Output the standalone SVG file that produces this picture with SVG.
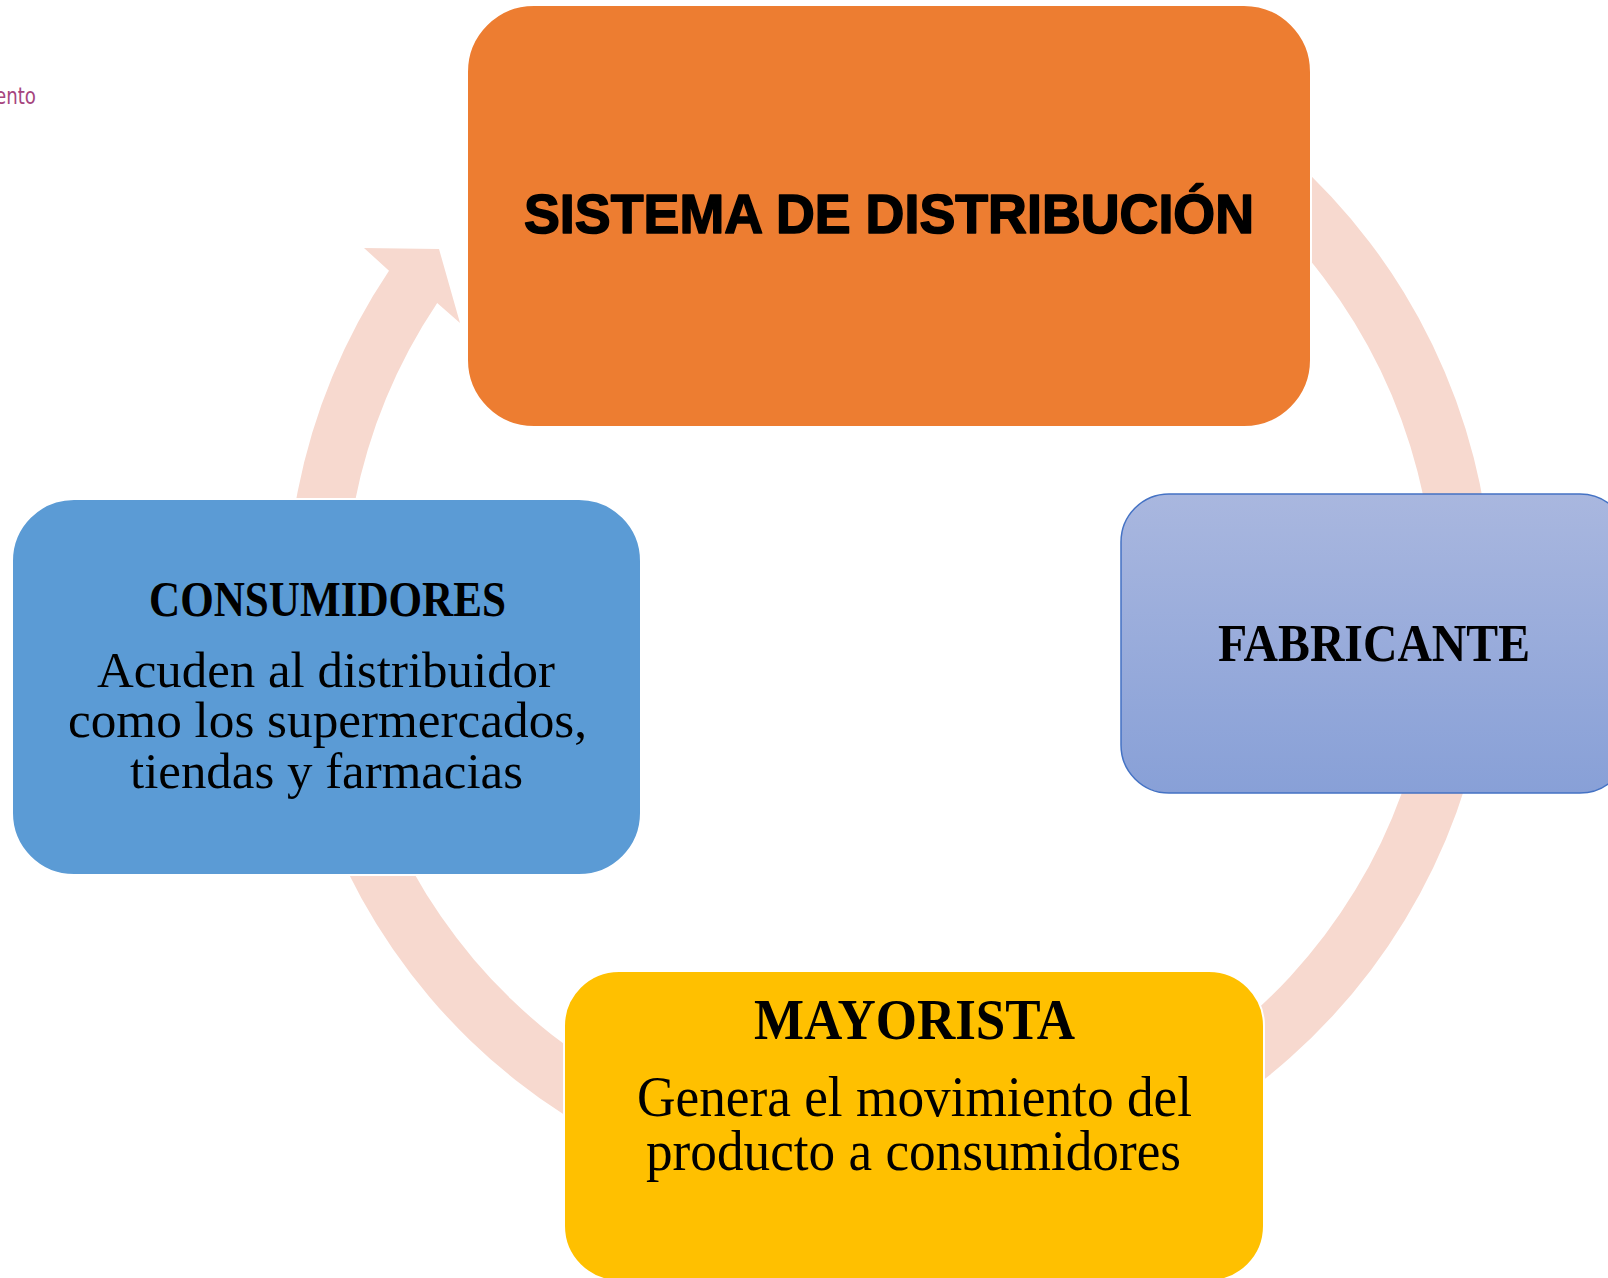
<svg xmlns="http://www.w3.org/2000/svg" width="1608" height="1278" viewBox="0 0 1608 1278">
  <defs>
    <linearGradient id="gFab" x1="0" y1="0" x2="0" y2="1">
      <stop offset="0" stop-color="#A9B7DF"/>
      <stop offset="1" stop-color="#88A0D7"/>
    </linearGradient>
    <style>
      .box { stroke: #FFFFFF; stroke-width: 2; }
      .serifB { font-family: "Liberation Serif", "Times New Roman", serif; font-weight: bold; fill: #000; }
      .serif { font-family: "Liberation Serif", "Times New Roman", serif; fill: #000; }
      .sans { font-family: "Liberation Sans", Arial, sans-serif; font-weight: bold; fill: #000; stroke: #000; stroke-width: 1.6; stroke-linejoin: round; }
    </style>
  </defs>
  <rect x="0" y="0" width="1608" height="1278" fill="#FFFFFF"/>

  <text x="-5" y="104" font-family="'DejaVu Sans', sans-serif" font-size="23" fill="#A6457E" textLength="41" lengthAdjust="spacingAndGlyphs">ento</text>

  <g id="connectors">
    <path d="M1191,84.8 A603,603 0 1 1 389,270.7 L364,248 L439,249 L460,323 L437.2,303.1 A545,545 0 1 0 1162,135 Z" fill="#F7D9CF"/>
  </g>

  <g id="node-sistema">
    <rect class="box" x="467" y="5" width="844" height="422" rx="67" ry="67" fill="#ED7D31"/>
    <text class="sans" x="889" y="233" font-size="55" text-anchor="middle" textLength="730" lengthAdjust="spacingAndGlyphs">SISTEMA DE DISTRIBUCIÓN</text>
  </g>

  <g id="node-fabricante">
    <rect x="1121" y="494" width="507" height="299" rx="48" ry="48" fill="url(#gFab)" stroke="#4472C4" stroke-width="1.5"/>
    <text class="serifB" x="1374" y="661" font-size="52" text-anchor="middle" textLength="312" lengthAdjust="spacingAndGlyphs">FABRICANTE</text>
  </g>

  <g id="node-consumidores">
    <rect class="box" x="12" y="499" width="629" height="376" rx="62" ry="62" fill="#5B9BD5"/>
    <text class="serifB" x="327.5" y="616" font-size="51" text-anchor="middle" textLength="357" lengthAdjust="spacingAndGlyphs">CONSUMIDORES</text>
    <text class="serif" x="326" y="687" font-size="50" text-anchor="middle" textLength="458" lengthAdjust="spacingAndGlyphs">Acuden al distribuidor</text>
    <text class="serif" x="327.5" y="737" font-size="50" text-anchor="middle" textLength="519" lengthAdjust="spacingAndGlyphs">como los supermercados,</text>
    <text class="serif" x="326.5" y="788" font-size="50" text-anchor="middle" textLength="393" lengthAdjust="spacingAndGlyphs">tiendas y farmacias</text>
  </g>

  <g id="node-mayorista">
    <rect class="box" x="564" y="971" width="700" height="310" rx="55" ry="55" fill="#FFC000"/>
    <text class="serifB" x="914.5" y="1039" font-size="58" text-anchor="middle" textLength="321" lengthAdjust="spacingAndGlyphs">MAYORISTA</text>
    <text class="serif" x="914.5" y="1116" font-size="56" text-anchor="middle" textLength="555" lengthAdjust="spacingAndGlyphs">Genera el movimiento del</text>
    <text class="serif" x="913.5" y="1170" font-size="56" text-anchor="middle" textLength="535" lengthAdjust="spacingAndGlyphs">producto a consumidores</text>
  </g>
</svg>
